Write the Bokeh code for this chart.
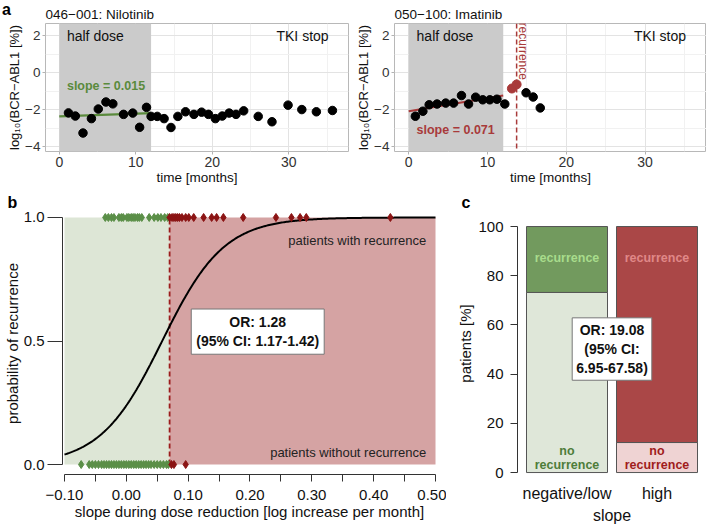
import numpy as np
from bokeh.plotting import figure
from bokeh.layouts import column, row
from bokeh.models import Label, FixedTicker, BoxAnnotation, Span, FactorRange, Title, Div
from bokeh.core.properties import value
from bokeh.embed import file_html
from bokeh.resources import INLINE

FONT = "Liberation Sans"

# ---------------- panel a data ----------------
nilo_title = "046\u2212001: Nilotinib"
nilo_time = [1.2, 2.1, 3.1, 4.2, 5.1, 6.1, 7.0, 8.4, 9.6, 10.5, 11.4, 12.0, 12.8, 13.7, 14.6,
             15.5, 16.5, 17.6, 18.6, 19.5, 20.4, 21.3, 22.2, 23.1, 24.1, 26.0, 27.8, 29.9,
             31.7, 33.6, 35.7]
nilo_val = [-2.17, -2.34, -3.26, -2.48, -1.96, -1.58, -1.68, -2.25, -2.18, -2.95, -1.87, -2.36,
            -2.36, -2.48, -2.96, -2.36, -2.11, -2.25, -2.13, -2.25, -2.48, -2.34, -2.18, -2.25,
            -2.06, -2.36, -2.65, -1.75, -1.99, -2.11, -2.04]
nilo_slope = 0.015
nilo_intercept = -2.36

ima_title = "050\u2212100: Imatinib"
ima_time = [0.85, 1.8, 2.6, 3.6, 4.7, 5.7, 6.7, 7.6, 8.5, 9.4, 10.3, 11.2, 12.2, 14.9, 15.8, 16.7]
ima_val = [-2.35, -2.08, -1.73, -1.69, -1.64, -1.64, -1.23, -1.69, -1.32, -1.46, -1.46, -1.43,
           -1.69, -1.08, -1.31, -1.90]
ima_recur_time = [13.1, 13.7]
ima_recur_val = [-0.85, -0.63]
ima_slope = 0.071
ima_intercept = -2.08
ima_recurrence_month = 13.7

half_dose_start = 0
half_dose_end = 12
a_xticks = [0, 10, 20, 30]
a_xminor = [5, 15, 25, 35]
a_yticks = [-4, -2, 0, 2]
a_yminor = [-3, -1, 1]
a_ylabels = {-4: "\u22124", -2: "\u22122", 0: "0", 2: "2"}

# ---------------- panel b data ----------------
rec_low = [-0.034, -0.029, -0.024, -0.020, -0.012, -0.008, -0.005, 0.001, 0.004, 0.008, 0.011,
           0.014, 0.018, 0.021, 0.025, 0.037, 0.045, 0.051, 0.056, 0.062, 0.067]
rec_high = [0.070, 0.074, 0.077, 0.080, 0.083, 0.086, 0.090, 0.096, 0.101, 0.109, 0.125, 0.138,
            0.146, 0.157, 0.189, 0.242, 0.267, 0.281, 0.291, 0.427]
norec_low = [-0.073, -0.060, -0.055, -0.050, -0.045, -0.040, -0.036, -0.032, -0.028, -0.024,
             -0.020, -0.016, -0.012, -0.008, -0.004, 0.000, 0.004, 0.008, 0.012, 0.016, 0.020,
             0.024, 0.028, 0.032, 0.036, 0.040, 0.045, 0.050, 0.055, 0.060, 0.065, 0.068]
norec_high = [0.073, 0.077, 0.096]
slope_threshold = 0.07
b_xmin, b_xmax = -0.1, 0.5
logit_midpoint = 0.058
logit_rate = 20.0
b_xticks = [-0.1, 0.0, 0.1, 0.2, 0.3, 0.4, 0.5]
b_xminor = [-0.05, 0.05, 0.15, 0.25, 0.35, 0.45]
b_xlabels = {-0.1: "\u22120.10", 0.0: "0.00", 0.1: "0.10", 0.2: "0.20", 0.3: "0.30",
             0.4: "0.40", 0.5: "0.50"}
b_yticks = [0.0, 0.5, 1.0]
b_ylabels = {0.0: "0.0", 0.5: "0.5", 1.0: "1.0"}

# ---------------- panel c data ----------------
c_cats = ["negative/low", "high"]
c_no_rec = [73.2, 12.2]
c_rec = [26.8, 87.8]
c_yticks = [0, 20, 40, 60, 80, 100]

GREEN = "#5a8a3c"
RED = "#a83a3a"


def style_common(p):
    p.background_fill_color = "white"
    p.border_fill_color = "white"


def make_a(title, frame_w, border_left, border_right):
    p = figure(frame_width=frame_w, frame_height=128, x_range=(-1.8, 37.8),
               y_range=(-4.26, 2.67), output_backend="svg", toolbar_location=None, title=title,
               min_border_left=border_left, min_border_right=border_right,
               min_border_top=23, min_border_bottom=39)
    style_common(p)
    p.title.text_font = FONT
    p.title.text_font_size = "13.5px"
    p.title.text_font_style = "normal"
    p.title.text_color = "#111111"
    p.title.align = "left"
    p.title.offset = 0
    p.title.standoff = 4
    p.outline_line_color = "#b8b8b8"
    p.xaxis.ticker = FixedTicker(ticks=a_xticks, minor_ticks=a_xminor)
    p.yaxis.ticker = FixedTicker(ticks=a_yticks, minor_ticks=a_yminor)
    p.yaxis.major_label_overrides = a_ylabels
    p.xgrid.grid_line_color = "#e3e3e3"
    p.ygrid.grid_line_color = "#e3e3e3"
    p.xgrid.minor_grid_line_color = "#f1f1f1"
    p.ygrid.minor_grid_line_color = "#f1f1f1"
    for ax in (p.xaxis, p.yaxis):
        ax.axis_line_color = None
        ax.minor_tick_line_color = None
        ax.major_tick_line_color = "#b3b3b3"
        ax.major_tick_out = 3
        ax.major_tick_in = 0
        ax.major_label_text_font = FONT
        ax.major_label_text_font_size = "13.5px"
        ax.major_label_text_color = "#333333"
        ax.major_label_standoff = 1
        ax.axis_label_text_font = FONT
        ax.axis_label_text_font_size = "13px"
        ax.axis_label_text_font_style = "normal"
        ax.axis_label_text_color = "#111111"
        ax.axis_label_standoff = 0
    p.xaxis.major_label_text_font_size = "14px"
    p.xaxis.axis_label_text_font_size = "13.5px"
    p.xaxis.axis_label = "time [months]"
    p.yaxis.axis_label = "log\u2081\u2080(BCR\u2212ABL1 [%])"
    p.add_layout(BoxAnnotation(left=half_dose_start, right=half_dose_end, fill_color="#cbcbcb",
                               fill_alpha=1.0, line_color=None, level="underlay"))
    p.add_layout(Label(x=1.0, y=2.0, text="half dose", text_baseline="middle",
                       text_font=FONT, text_font_size="14px", text_color="#111111"))
    p.add_layout(Label(x=35.2, y=2.0, text="TKI stop", text_baseline="middle", text_align="right",
                       text_font=FONT, text_font_size="14px", text_color="#111111"))
    return p


def panel_letter(p, letter, offset):
    p.add_layout(Title(text=letter, align="left", offset=offset, standoff=0, vertical_align="top",
                       text_font=FONT, text_font_size="16px", text_font_style="bold",
                       text_color="black"), "above")


# ---------------- panel a left ----------------
pa1 = make_a(nilo_title, 303, 44, 2)
pa1.border_fill_alpha = 0.0
xs = np.array([half_dose_start, half_dose_end], dtype=float)
pa1.line(xs, nilo_intercept + nilo_slope * xs, line_color=GREEN, line_width=2.2)
pa1.scatter(nilo_time, nilo_val, size=8.5, color="black")
pa1.add_layout(Label(x=1.0, y=-0.72, text="slope = %.3f" % nilo_slope, text_baseline="middle",
                     text_font=FONT, text_font_size="12.5px", text_font_style="bold",
                     text_color=GREEN))

letter_a = Div(text="<span style=\"position:relative; left:2px; top:-1px; "
                    "font-family:'Liberation Sans'; font-weight:bold; font-size:16px; "
                    "color:black; white-space:nowrap;\">a</span>",
               width=1, height=20, margin=(0, 0, 0, 0), styles={"overflow": "visible"})

# ---------------- panel a right ----------------
pa2 = make_a(ima_title, 312, 44, 0)
pa2.add_layout(Span(location=ima_recurrence_month, dimension="height", line_color=RED,
                    line_dash="5 3", line_width=1.5))
pa2.line(xs, ima_intercept + ima_slope * xs, line_color=RED, line_width=2.2)
pa2.scatter(ima_time, ima_val, size=8.5, color="black")
pa2.line(ima_recur_time, ima_recur_val, line_color=RED, line_width=3)
pa2.scatter(ima_recur_time, ima_recur_val, size=9, color=RED)
pa2.add_layout(Label(x=1.0, y=-3.1, text="slope = %.3f" % ima_slope, text_baseline="middle",
                     text_font=FONT, text_font_size="12.5px", text_font_style="bold",
                     text_color=RED))
pa2.add_layout(Label(x=14.5, y=2.72, text="recurrence", angle=-np.pi / 2, text_align="left",
                     text_baseline="middle", text_font=FONT, text_font_size="12px",
                     text_color=RED))

# ---------------- panel b ----------------
pb = figure(frame_width=374, frame_height=262, x_range=(-0.1032, 0.5016),
            y_range=(-0.0403, 1.0202), output_backend="svg", toolbar_location=None,
            min_border_left=62, min_border_right=10, min_border_top=22, min_border_bottom=52)
style_common(pb)
panel_letter(pb, "b", -55)
pb.outline_line_color = None
pb.xgrid.grid_line_color = None
pb.ygrid.grid_line_color = None
pb.quad(left=[b_xmin], right=[slope_threshold], bottom=[0], top=[1],
        fill_color="#dde6d6", line_color=None)
pb.quad(left=[slope_threshold], right=[b_xmax], bottom=[0], top=[1],
        fill_color="#d5a3a3", line_color=None)
pb.segment(x0=[slope_threshold], y0=[0], x1=[slope_threshold], y1=[1], line_color="#9b1c1c",
           line_dash="5 3", line_width=1.8)
curve_x = np.linspace(b_xmin, b_xmax, 300)
curve_y = 1.0 / (1.0 + np.exp(-logit_rate * (curve_x - logit_midpoint)))
pb.line(curve_x, curve_y, line_color="black", line_width=2)
DGREEN = "#5b8f48"
DRED = "#8b1414"
pb.scatter(rec_low, [1] * len(rec_low), marker="diamond", size=8, color=DGREEN)
pb.scatter(rec_high, [1] * len(rec_high), marker="diamond", size=8, color=DRED)
pb.scatter(norec_low, [0] * len(norec_low), marker="diamond", size=8, color=DGREEN)
pb.scatter(norec_high, [0] * len(norec_high), marker="diamond", size=8, color=DRED)
pb.add_layout(Label(x=0.485, y=0.907, text="patients with recurrence", text_align="right",
                    text_baseline="middle", text_font=FONT, text_font_size="13px",
                    text_color="#222222"))
pb.add_layout(Label(x=0.485, y=0.05, text="patients without recurrence", text_align="right",
                    text_baseline="middle", text_font=FONT, text_font_size="13px",
                    text_color="#222222"))
pb.add_layout(Label(x=0.2125, y=0.538, text="OR: 1.28\n(95% CI: 1.17-1.42)", text_align="center",
                    text_baseline="middle", text_font=FONT, text_font_size="14px",
                    text_font_style="bold", text_color="#111111", background_fill_color="white",
                    border_line_color="#777777", border_line_width=1, padding=5))
pb.xaxis.ticker = FixedTicker(ticks=b_xticks, minor_ticks=b_xminor)
pb.xaxis.major_label_overrides = b_xlabels
pb.xaxis.bounds = (b_xmin, b_xmax)
pb.yaxis.ticker = FixedTicker(ticks=b_yticks)
pb.yaxis.major_label_overrides = b_ylabels
pb.yaxis.bounds = (0, 1)
for ax in (pb.xaxis, pb.yaxis):
    ax.axis_line_color = "#333333"
    ax.major_tick_line_color = "#333333"
    ax.minor_tick_line_color = "#333333"
    ax.major_tick_in = 0
    ax.minor_tick_in = 0
    ax.major_label_text_font = FONT
    ax.major_label_text_font_size = "15px"
    ax.major_label_text_color = "#111111"
    ax.axis_label_text_font = FONT
    ax.axis_label_text_font_size = "15px"
    ax.axis_label_text_font_style = "normal"
    ax.axis_label_text_color = "#111111"
pb.xaxis.major_tick_out = 7
pb.xaxis.minor_tick_out = 7
pb.xaxis.major_label_standoff = 8
pb.xaxis.axis_label_standoff = 0
pb.yaxis.major_tick_out = 15
pb.yaxis.minor_tick_line_color = None
pb.yaxis.major_label_standoff = 3
pb.yaxis.axis_label_standoff = 0
pb.xaxis.axis_label = "slope during dose reduction [log increase per month]"
pb.yaxis.axis_label = "probability of recurrence"

# ---------------- panel c ----------------
pc = figure(frame_width=189, frame_height=262,
            x_range=FactorRange(*c_cats, range_padding=0.05, range_padding_units="absolute"),
            y_range=(-0.8, 105.7), output_backend="svg", toolbar_location=None,
            min_border_left=71, min_border_right=0, min_border_top=22, min_border_bottom=52)
style_common(pc)
panel_letter(pc, "c", -56)
pc.outline_line_color = None
pc.xgrid.grid_line_color = None
pc.ygrid.grid_line_color = None
top_all = [a + b for a, b in zip(c_no_rec, c_rec)]
pc.vbar(x=c_cats, bottom=0, top=c_no_rec, width=0.9, fill_color=["#dfe7d9", "#efd3d3"],
        line_color="#555555", line_width=1)
pc.vbar(x=c_cats, bottom=c_no_rec, top=top_all, width=0.9, fill_color=["#729a5e", "#aa4747"],
        line_color="#555555", line_width=1)
pc.text(x=c_cats, y=[87.4, 87.4], text=["recurrence", "recurrence"],
        text_color=["#a8dc8c", "#e08888"], text_align="center", text_baseline="middle",
        text_font_size="12.5px", text_font_style="bold", text_font=value(FONT))
pc.text(x=c_cats, y=[8.6, 8.6], text=["no", "no"],
        text_color=["#4e7d3a", "#a01c1c"], text_align="center", text_baseline="middle",
        text_font_size="12.5px", text_font_style="bold", text_font=value(FONT))
pc.text(x=c_cats, y=[3.2, 3.2], text=["recurrence", "recurrence"],
        text_color=["#4e7d3a", "#a01c1c"], text_align="center", text_baseline="middle",
        text_font_size="12.5px", text_font_style="bold", text_font=value(FONT))
pc.add_layout(Label(x=1.0, y=50.2, text="OR: 19.08\n(95% CI:\n6.95-67.58)", text_align="center",
                    text_baseline="middle", text_font=FONT, text_font_size="14px",
                    text_font_style="bold", text_color="#111111", background_fill_color="white",
                    border_line_color="#777777", border_line_width=1, padding=4))
pc.yaxis.ticker = FixedTicker(ticks=c_yticks)
pc.yaxis.bounds = (0, 100)
pc.yaxis.axis_line_color = "#333333"
pc.yaxis.major_tick_line_color = "#333333"
pc.yaxis.minor_tick_line_color = None
pc.yaxis.major_tick_out = 7
pc.yaxis.major_tick_in = 0
pc.yaxis.major_label_standoff = 7
pc.xaxis.axis_line_color = None
pc.xaxis.major_tick_line_color = None
pc.xaxis.minor_tick_line_color = None
pc.xaxis.major_label_standoff = 4
pc.xaxis.axis_label_standoff = 2
for ax in (pc.xaxis, pc.yaxis):
    ax.major_label_text_font = FONT
    ax.major_label_text_color = "#111111"
    ax.axis_label_text_font = FONT
    ax.axis_label_text_font_style = "normal"
    ax.axis_label_text_color = "#111111"
pc.yaxis.major_label_text_font_size = "15px"
pc.xaxis.major_label_text_font_size = "16px"
pc.yaxis.axis_label_text_font_size = "15px"
pc.xaxis.axis_label_text_font_size = "16px"
pc.yaxis.axis_label_standoff = 1
pc.xaxis.axis_label = "slope"
pc.yaxis.axis_label = "patients [%]"

layout = column(row(letter_a, pa1, pa2, spacing=0), row(pb, pc, spacing=0), spacing=0)

open("out.html", "w").write(file_html(layout, INLINE))
